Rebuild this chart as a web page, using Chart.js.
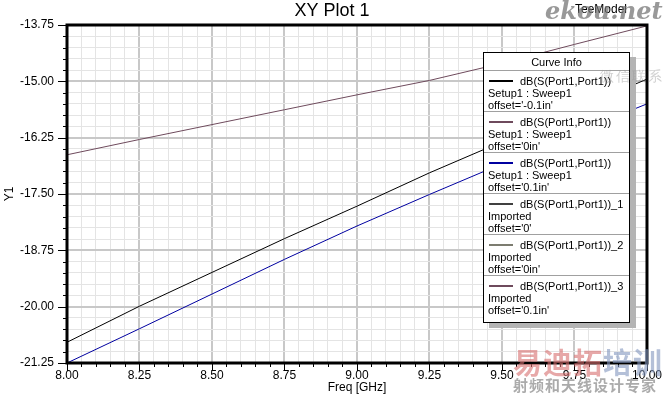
<!DOCTYPE html>
<html>
<head>
<meta charset="utf-8">
<script src="https://cdn.jsdelivr.net/npm/chart.js@4"></script>
<style>
    body { margin: 0; background: #fff; }
    #wrap { position: relative; width: 667px; height: 395px; overflow: hidden; font-family: "Liberation Sans", Arial, sans-serif; }
    #curve-info { position: absolute; left: 483px; top: 52px; width: 145px; height: 269px; background: #fff; border: 1px solid #000; box-shadow: 6px 5px 0 #b4b4b4; font-size: 11px; color: #000; }
    #curve-info .head { height: 17px; line-height: 18px; text-align: center; border-bottom: 1px solid #a0a0a0; }
    #curve-info .entry { height: 41px; border-bottom: 1px solid #a0a0a0; padding-left: 4px; line-height: 12px; box-sizing: border-box; padding-top: 4px; position: relative; }
    #curve-info .entry:last-child { border-bottom: none; }
    #curve-info .swatch { position: absolute; left: 5px; top: 9px; width: 24px; height: 2px; }
    #curve-info .name { padding-left: 32px; }
    .wm { position: absolute; white-space: nowrap; }
</style>
</head>
<body>
<div id="wrap">
    <canvas id="plot" width="667" height="395"></canvas>
    <div class="wm" style="left:575px; top:2px; font-size: 12px; color: #000;">TeeModel</div>
    <div id="curve-info"></div>
    <div class="wm" style="left:545px; top:-4px; font: italic bold 24px 'DejaVu Serif', serif; color: rgba(110,110,110,0.7);">ekou.net</div>
    <div class="wm" style="left:600px; top:68px; font-size: 14px; color: rgba(150,150,150,0.45); letter-spacing: 2px;">微信联系</div>
    <div class="wm" style="left:513px; top:340px; font: bold 29px 'Noto Sans CJK SC'; letter-spacing: 1px;"><span style="color: rgba(215,110,110,0.6);">易迪拓</span><span style="color: rgba(130,150,190,0.6);">培训</span></div>
    <div class="wm" style="left:513px; top:374px; font: bold 15px 'Noto Sans CJK SC'; color: rgba(150,150,150,0.8); letter-spacing: 1px;">射频和天线设计专家</div>
</div>
<script>
const freqs = [8.0, 8.25, 8.5, 8.75, 9.0, 9.25, 9.5, 9.75, 10.0];
const dbOffsetNeg = [-20.79, -19.99, -19.24, -18.49, -17.77, -17.03, -16.34, -15.64, -14.95];
const dbOffsetZero = [-16.63, -16.29, -15.96, -15.63, -15.30, -14.98, -14.60, -14.18, -13.77];
const dbOffsetPos = [-21.25, -20.49, -19.72, -18.95, -18.21, -17.51, -16.83, -16.15, -15.50];

const curveNames = ['dB(S(Port1,Port1))', 'dB(S(Port1,Port1))', 'dB(S(Port1,Port1))', 'dB(S(Port1,Port1))_1', 'dB(S(Port1,Port1))_2', 'dB(S(Port1,Port1))_3'];
const curveSources = ['Setup1 : Sweep1', 'Setup1 : Sweep1', 'Setup1 : Sweep1', 'Imported', 'Imported', 'Imported'];
const curveOffsets = ["offset='-0.1in'", "offset='0in'", "offset='0.1in'", "offset='0'", "offset='0in'", "offset='0.1in'"];
const curveColors = ['#000000', '#6e4a5c', '#0000a0', '#404040', '#7c7c70', '#6e4a5c'];

function isMajor(v, step) {
    const r = v / step;
    return Math.abs(r - Math.round(r)) < 1e-6;
}

function points(ys) {
    const out = [];
    for (let i = 0; i < freqs.length; i++) {
        out.push({ x: freqs[i], y: ys[i] });
    }
    return out;
}

function buildLegend() {
    const box = document.getElementById('curve-info');
    let html = '<div class="head">Curve Info</div>';
    for (let i = 0; i < curveNames.length; i++) {
        html += '<div class="entry"><div class="swatch" style="background:' + curveColors[i] + '"></div>' +
            '<div class="name">' + curveNames[i] + '</div><div>' + curveSources[i] + '</div><div>' + curveOffsets[i] + '</div></div>';
    }
    box.innerHTML = html;
}

const framePlugin = {
    id: 'frame',
    afterDraw: function(chart) {
        const ctx = chart.ctx;
        const a = chart.chartArea;
        const xs = chart.scales.x;
        const ys = chart.scales.y;
        ctx.save();
        ctx.strokeStyle = '#000';
        ctx.lineWidth = 1;
        ctx.beginPath();
        xs.ticks.forEach(function(t) {
            const px = Math.round(xs.getPixelForValue(t.value)) + 0.5;
            const len = isMajor(t.value, 0.25) ? 8 : 4;
            ctx.moveTo(px, a.bottom);
            ctx.lineTo(px, a.bottom + len);
        });
        ys.ticks.forEach(function(t) {
            const py = Math.round(ys.getPixelForValue(t.value)) + 0.5;
            const len = isMajor(t.value, 1.25) ? 9 : 4;
            ctx.moveTo(a.left, py);
            ctx.lineTo(a.left - len, py);
        });
        ctx.stroke();
        ctx.lineWidth = 3;
        ctx.strokeRect(a.left, a.top, a.right - a.left, a.bottom - a.top);

        ctx.fillStyle = '#000';
        ctx.font = '18px "Liberation Sans", Arial';
        ctx.textAlign = 'center';
        ctx.textBaseline = 'middle';
        ctx.fillText('XY Plot 1', 332, 11);
        ctx.restore();
    }
};

window.onload = function() {
    buildLegend();
    new Chart(document.getElementById('plot'), {
        type: 'line',
        data: {
            datasets: [
                { label: 'offset -0.1in', data: points(dbOffsetNeg), borderColor: curveColors[0] },
                { label: 'offset 0in', data: points(dbOffsetZero), borderColor: curveColors[1] },
                { label: 'offset 0.1in', data: points(dbOffsetPos), borderColor: curveColors[2] }
            ]
        },
        options: {
            responsive: false,
            animation: false,
            layout: { padding: { top: 25, right: 20, left: 0, bottom: 0 } },
            elements: {
                point: { radius: 0 },
                line: { borderWidth: 1, tension: 0 }
            },
            plugins: { legend: { display: false }, tooltip: { enabled: false } },
            scales: {
                x: {
                    type: 'linear',
                    min: 8,
                    max: 10,
                    afterFit: function(s) { s.height = 32; },
                    border: { display: false },
                    grid: {
                        drawTicks: false,
                        color: function(c) { return isMajor(c.tick.value, 0.25) ? '#c8c8c8' : '#e4e4e4'; },
                        lineWidth: function(c) { return isMajor(c.tick.value, 0.25) ? 2 : 1; }
                    },
                    ticks: {
                        stepSize: 0.05,
                        autoSkip: false,
                        maxRotation: 0,
                        padding: 5,
                        color: '#000',
                        font: { family: '"Liberation Sans", Arial', size: 12 },
                        callback: function(v) { return isMajor(v, 0.25) ? v.toFixed(2) : ''; }
                    },
                    title: {
                        display: true,
                        text: 'Freq [GHz]',
                        color: '#000',
                        padding: { top: 0, bottom: 0 },
                        font: { family: '"Liberation Sans", Arial', size: 12 }
                    }
                },
                y: {
                    min: -21.25,
                    max: -13.75,
                    afterFit: function(s) { s.width = 67; },
                    border: { display: false },
                    grid: {
                        drawTicks: false,
                        color: function(c) { return isMajor(c.tick.value, 1.25) ? '#c8c8c8' : '#e4e4e4'; },
                        lineWidth: function(c) { return isMajor(c.tick.value, 1.25) ? 2 : 1; }
                    },
                    ticks: {
                        stepSize: 0.25,
                        autoSkip: false,
                        padding: 13,
                        color: '#000',
                        font: { family: '"Liberation Sans", Arial', size: 12 },
                        callback: function(v) { return isMajor(v, 1.25) ? v.toFixed(2) : ''; }
                    },
                    title: {
                        display: true,
                        text: 'Y1',
                        color: '#000',
                        padding: { top: 2, bottom: 0 },
                        font: { family: '"Liberation Sans", Arial', size: 12 }
                    }
                }
            }
        },
        plugins: [framePlugin]
    });
};
</script>
</body>
</html>
